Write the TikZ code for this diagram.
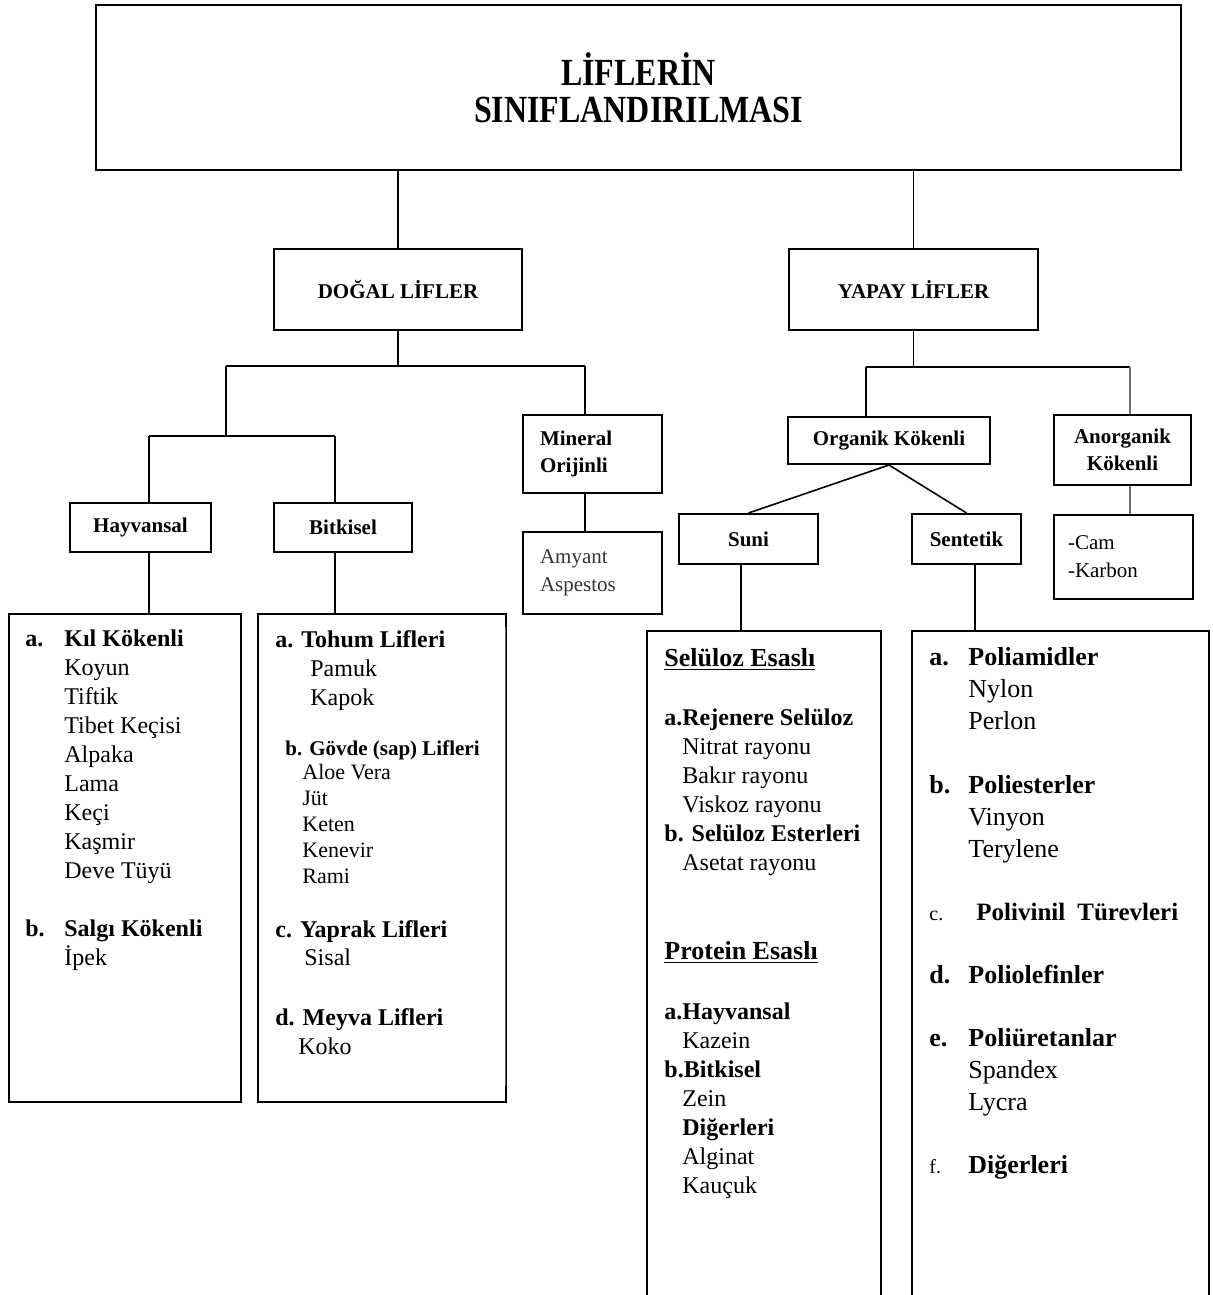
\documentclass[tikz,border=0pt]{standalone}
\usepackage{fontspec}
\setmainfont{Liberation Serif}
\usetikzlibrary{positioning}
\tikzstyle{box} = [draw,line width=1pt,rectangle,inner sep=0,font=\bfseries\fontsize{10.5}{13.5}\selectfont,align=center]
\tikzstyle{plainbox} = [box,font=\fontsize{10.5}{14}\selectfont,align=left]
\tikzstyle{listbox} = [draw,line width=1pt,rectangle,inner sep=0]
\tikzstyle{listtext} = [anchor=north west,inner sep=0,align=left]
\tikzstyle{link} = [-,line width=0.8pt]
\tikzstyle{pale} = [-,line width=0.8pt,color=black!55]
\def \lab {19.5pt}

\begin{document}
\begin{tikzpicture}[x=0.5pt,y=-0.5pt]
  \useasboundingbox (0,0) rectangle (1213,1295);
  % title and the two main groups
  \node[box,minimum width=542.5pt,minimum height=82.5pt,font=\bfseries\fontsize{16}{18.5}\selectfont] (title) at (638.5,87.5) {\scalebox{1}[1.2]{LİFLERİN}\\\scalebox{1}[1.2]{SINIFLANDIRILMASI}};
  \node[box,minimum width=124pt,minimum height=40.5pt] (dogal) at (398,289.5) {\raisebox{-3pt}{DOĞAL LİFLER}};
  \node[box,minimum width=124.5pt,minimum height=40.5pt] (yapay) at (913.5,289.5) {\raisebox{-3pt}{YAPAY LİFLER}};
  % natural side
  \node[box,minimum width=70.5pt,minimum height=24.5pt] (hayvan) at (140.5,527.5) {Hayvansal};
  \node[box,minimum width=69pt,minimum height=24.5pt] (bitki) at (343,527.5) {Bitkisel};
  \node[box,align=left,text width=52.5pt,inner xsep=8.5pt,minimum height=39pt] (mineral) at (592.5,454) {Mineral\\Orijinli};
  \node[plainbox,text=black!80,text width=52.5pt,inner xsep=8.5pt,minimum height=41pt] (amyant) at (592.5,573) {Amyant\\Aspestos};
  % man-made side
  \node[box,minimum width=101pt,minimum height=23.5pt] (organik) at (889,440.5) {Organik Kökenli};
  \node[box,minimum width=68.5pt,minimum height=35pt] (anorg) at (1122.5,450) {Anorganik\\Kökenli};
  \node[plainbox,text width=55.5pt,inner xsep=7pt,minimum height=42pt] (cam) at (1123.5,557) {-Cam\\-Karbon};
  \node[box,minimum width=69.5pt,minimum height=25pt] (suni) at (748.5,539) {Suni};
  \node[box,minimum width=54.5pt,minimum height=25pt] (sentetik) at (966.5,539) {Sentetik};
  % list boxes
  \node[listbox,minimum width=116pt,minimum height=244pt] (hlist) at (125,858) {};
  \node[listbox,minimum width=124pt,minimum height=244pt] (blist) at (382,858) {};
  \node[listbox,minimum width=117pt,minimum height=339.5pt] (slist) at (764,970.5) {};
  \node[listbox,minimum width=148.5pt,minimum height=339.5pt] (plist) at (1060.5,970.5) {};
  \draw[line width=0.5pt,black!60] ([xshift=-1pt,yshift=-7pt]blist.north east) -- ([xshift=-1pt,yshift=8.5pt]blist.south east);

  \node[listtext] (htext) at (25,626) {\fontsize{12}{14.5}\selectfont
    \begin{tabular}{@{}p{\lab}@{}l@{}}
      \textbf{a.} & \textbf{Kıl Kökenli}\\
      & Koyun\\ & Tiftik\\ & Tibet Keçisi\\ & Alpaka\\ & Lama\\ & Keçi\\ & Kaşmir\\ & Deve Tüyü\\[14.5pt]
      \textbf{b.} & \textbf{Salgı Kökenli}\\
      & İpek
    \end{tabular}};
  \node[listtext] (btext) at (275,627) {\fontsize{12}{14.5}\selectfont
    \begin{tabular}{@{}l@{}}
      \textbf{a. Tohum Lifleri}\\
      \hspace*{17.5pt}Pamuk\\
      \hspace*{17.5pt}Kapok\\[10.5pt]
      \hspace*{5pt}{\bfseries\fontsize{10.5}{13}\selectfont b. Gövde (sap) Lifleri}\\[-2.5pt]
      \hspace*{13.5pt}{\fontsize{11}{13}\selectfont Aloe Vera}\\[-1.5pt]
      \hspace*{13.5pt}{\fontsize{11}{13}\selectfont Jüt}\\[-1.5pt]
      \hspace*{13.5pt}{\fontsize{11}{13}\selectfont Keten}\\[-1.5pt]
      \hspace*{13.5pt}{\fontsize{11}{13}\selectfont Kenevir}\\[-1.5pt]
      \hspace*{13.5pt}{\fontsize{11}{13}\selectfont Rami}\\[12.5pt]
      \textbf{c. Yaprak Lifleri}\\[-0.5pt]
      \hspace*{14.5pt}Sisal\\[15.5pt]
      \textbf{d. Meyva Lifleri}\\
      \hspace*{11.5pt}Koko
    \end{tabular}};
  \node[listtext] (stext) at (664,646) {\fontsize{12}{14.5}\selectfont
    \begin{tabular}{@{}l@{}}
      {\bfseries\fontsize{13}{14.5}\selectfont\underline{Selüloz Esaslı}}\\[15pt]
      \textbf{a.Rejenere Selüloz}\\
      \hspace*{9pt}Nitrat rayonu\\
      \hspace*{9pt}Bakır rayonu\\
      \hspace*{9pt}Viskoz rayonu\\
      \textbf{b. Selüloz Esterleri}\\
      \hspace*{9pt}Asetat rayonu\\[30pt]
      {\bfseries\fontsize{13}{14.5}\selectfont\underline{Protein Esaslı}}\\[15.5pt]
      \textbf{a.Hayvansal}\\
      \hspace*{9pt}Kazein\\
      \textbf{b.Bitkisel}\\
      \hspace*{9pt}Zein\\
      \hspace*{9pt}\textbf{Diğerleri}\\
      \hspace*{9pt}Alginat\\
      \hspace*{9pt}Kauçuk
    \end{tabular}};
  \node[listtext] (ptext) at (929,643) {\fontsize{13}{16}\selectfont
    \begin{tabular}{@{}p{\lab}@{}l@{}}
      \textbf{a.} & \textbf{Poliamidler}\\
      & Nylon\\ & Perlon\\[16pt]
      \textbf{b.} & \textbf{Poliesterler}\\
      & Vinyon\\ & Terylene\\[15.5pt]
      {\fontsize{10}{12}\selectfont c.} & \hspace*{4pt}{\bfseries\fontsize{12.5}{16}\selectfont Polivinil\hspace{6pt}Türevleri}\\[15.5pt]
      \textbf{d.} & \textbf{Poliolefinler}\\[15.5pt]
      \textbf{e.} & \textbf{Poliüretanlar}\\
      & Spandex\\ & Lycra\\[15.5pt]
      {\fontsize{10}{12}\selectfont f.} & \textbf{Diğerleri}
    \end{tabular}};

  % junction points
  \coordinate (d1) at (226,366);
  \coordinate (d2) at (585,366);
  \coordinate (h1) at (149,436);
  \coordinate (h2) at (335,436);
  \coordinate (y1) at (866,367);
  \coordinate (y2) at (1130,367);
  \coordinate (s1) at (741,600);
  \coordinate (t1) at (975,600);

  \draw[link] (title.south -| dogal) -- (dogal.north);
  \draw[link] (title.south -| yapay) -- (yapay.north);
  \draw[link] (dogal.south) -- (dogal.south |- d1);
  \draw[link] (d1) -- (d2);
  \draw[link] (d1) -- (d1 |- h1);
  \draw[link] (d2) -- (d2 |- mineral.north);
  \draw[link] (h1) -- (h2);
  \draw[link] (h1) -- (h1 |- hayvan.north);
  \draw[link] (h2) -- (h2 |- bitki.north);
  \draw[link] (hayvan.south -| h1) -- (h1 |- hlist.north);
  \draw[link] (bitki.south -| h2) -- (h2 |- blist.north);
  \draw[link] (mineral.south -| d2) -- (d2 |- amyant.north);
  \draw[link] (yapay.south) -- (yapay.south |- y1);
  \draw[link] (y1) -- (y2);
  \draw[link] (y1) -- (y1 |- organik.north);
  \draw[pale] (y2) -- (y2 |- anorg.north);
  \draw[pale] (anorg.south -| y2) -- (y2 |- cam.north);
  \draw[link] (organik.south) -- (suni.north);
  \draw[link] (organik.south) -- (sentetik.north);
  \draw[link] (suni.south -| s1) -- (s1 |- slist.north);
  \draw[link] (sentetik.south -| t1) -- (t1 |- plist.north);
\end{tikzpicture}
\end{document}
